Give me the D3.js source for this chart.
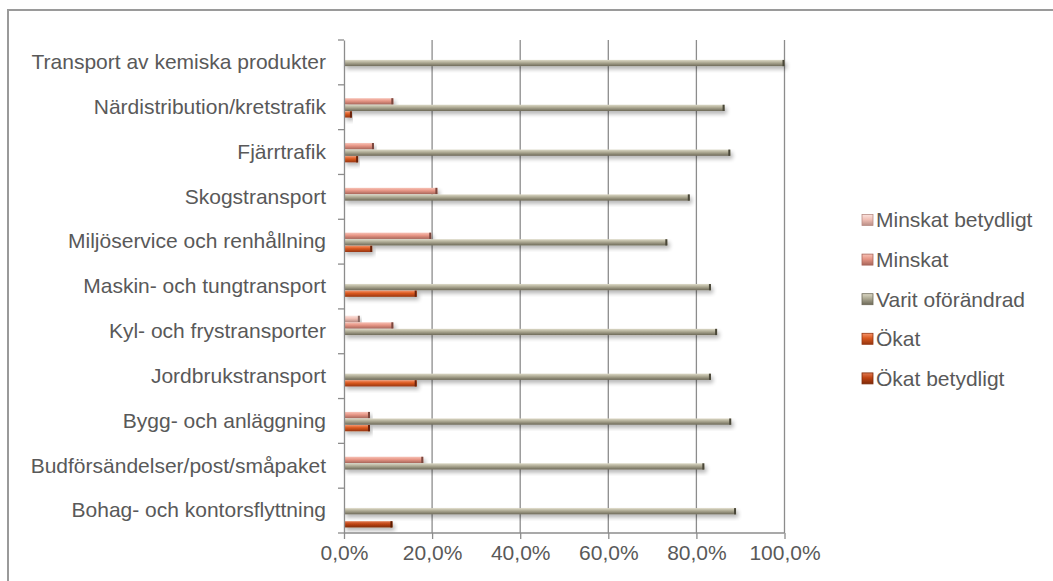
<!DOCTYPE html>
<html><head><meta charset="utf-8">
<script src="https://cdn.jsdelivr.net/npm/d3@7"></script>
<style>body{margin:0;background:#fff;} text{font-family:"Liberation Sans",Arial,sans-serif;}</style>
</head><body><svg id="c" width="1053" height="581"></svg>
<script>
// Categories listed top to bottom
const categories = ["Transport av kemiska produkter","Närdistribution/kretstrafik","Fjärrtrafik","Skogstransport","Miljöservice och renhållning","Maskin- och tungtransport","Kyl- och frystransporter","Jordbrukstransport","Bygg- och anläggning","Budförsändelser/post/småpaket","Bohag- och kontorsflyttning"];
const seriesNames = ["Minskat betydligt","Minskat","Varit oförändrad","Ökat","Ökat betydligt"];
const minskatBetydligt = [0,0,0,0,0,0,3.6,0,0,0,0];
const minskat          = [0,11.2,6.8,21.2,19.8,0,11.2,0,5.9,18.0,0];
const varitOforandrad  = [100,86.4,87.7,78.5,73.4,83.3,84.7,83.3,87.9,81.8,89.0];
const okat             = [0,1.8,3.2,0,6.4,16.5,0,16.5,5.9,0,0];
const okatBetydligt    = [0,0,0,0,0,0,0,0,0,0,11.0];
const xTicks = [0,20,40,60,80,100];
const seriesValues = [minskatBetydligt,minskat,varitOforandrad,okat,okatBetydligt];
const colors = [
  {top:"#fbe3de",mid:"#f1c0b6",bot:"#b98d85",cap:"#8a6a64"},
  {top:"#f8c2b6",mid:"#e69585",bot:"#a8665a",cap:"#7a463e"},
  {top:"#dcd9c6",mid:"#aca892",bot:"#6d6958",cap:"#4a4738"},
  {top:"#f5946a",mid:"#d9581f",bot:"#963610",cap:"#6b2408"},
  {top:"#e07a50",mid:"#bf4313",bot:"#7e2a08",cap:"#5a1d05"}
];
const FS = 21;
const TXT = "#595959";

const svg = d3.select("#c");
const defs = svg.append("defs");
colors.forEach((c,i)=>{
  const g = defs.append("linearGradient").attr("id","g"+i).attr("x1",0).attr("y1",0).attr("x2",0).attr("y2",1);
  g.append("stop").attr("offset","0%").attr("stop-color",c.top);
  g.append("stop").attr("offset","45%").attr("stop-color",c.mid);
  g.append("stop").attr("offset","100%").attr("stop-color",c.bot);
});
const f = defs.append("filter").attr("id","sh").attr("x","-5%").attr("y","-50%").attr("width","115%").attr("height","250%");
f.append("feGaussianBlur").attr("in","SourceAlpha").attr("stdDeviation",2);
f.append("feOffset").attr("dx",2).attr("dy",3).attr("result","ob");
f.append("feComponentTransfer").append("feFuncA").attr("type","linear").attr("slope",0.3);
const fm = f.append("feMerge"); fm.append("feMergeNode"); fm.append("feMergeNode").attr("in","SourceGraphic");

// outer border
svg.append("rect").attr("x",8).attr("y",10).attr("width",1060).attr("height",600)
  .attr("fill","none").attr("stroke","#9a9a9a").attr("stroke-width",2);

const x = d3.scaleLinear().domain([0,100]).range([344,784.5]);
const y0 = d3.scaleBand().domain(categories).range([40,533]).paddingInner(0.27).paddingOuter(0.135);
const y1 = d3.scaleBand().domain(seriesNames).range([0,y0.bandwidth()]);
const yOuter = d3.scaleBand().domain(categories).range([40,533]);

// gridlines
svg.append("g").selectAll("line").data(xTicks.slice(1)).join("line")
  .attr("x1",d=>x(d)).attr("x2",d=>x(d)).attr("y1",40).attr("y2",533)
  .attr("stroke","#8c8c8c").attr("stroke-width",1.3);

// bars
const gCat = svg.append("g").selectAll("g").data(categories).join("g")
  .attr("transform",d=>`translate(0,${y0(d)+0.8})`);
seriesNames.forEach((s,si)=>{
  gCat.each(function(cat,ci){
    const v = seriesValues[si][ci];
    if(!v) return;
    const g = d3.select(this).append("g").attr("filter","url(#sh)");
    g.append("rect").attr("x",x(0)).attr("y",y1(s)).attr("width",x(v)-x(0)).attr("height",y1.bandwidth()-0.3)
      .attr("fill","url(#g"+si+")");
    g.append("rect").attr("x",x(v)-2).attr("y",y1(s)).attr("width",2).attr("height",y1.bandwidth()-0.3)
      .attr("fill",colors[si].cap);
  });
});

// y axis
const yAxis = d3.axisLeft(yOuter).tickSize(0).tickPadding(18);
const ya = svg.append("g").attr("transform","translate(344,0)").call(yAxis);
ya.select(".domain").attr("stroke","#8c8c8c").attr("stroke-width",1.3);
ya.selectAll("text").attr("font-size",FS).attr("fill",TXT).attr("font-family","Liberation Sans, Arial, sans-serif");
// category boundary ticks
svg.append("g").selectAll("line").data(categories.concat(["_end"])).join("line")
  .attr("x1",338).attr("x2",344)
  .attr("y1",(d,i)=> i<categories.length ? yOuter(d) : 533)
  .attr("y2",(d,i)=> i<categories.length ? yOuter(d) : 533)
  .attr("stroke","#8c8c8c").attr("stroke-width",1.3);

// x axis
const xAxis = d3.axisBottom(x).tickValues(xTicks).tickSize(6).tickPadding(6)
  .tickFormat(d=>d3.format(".1f")(d).replace(".",",")+"%");
const xa = svg.append("g").attr("transform","translate(0,533)").call(xAxis);
xa.select(".domain").attr("stroke","#8c8c8c").attr("stroke-width",1.3).attr("d","M344,0H784.5");
xa.selectAll(".tick line").attr("stroke","#8c8c8c").attr("stroke-width",1.3);
xa.selectAll("text").attr("font-size",FS).attr("fill",TXT).attr("font-family","Liberation Sans, Arial, sans-serif");

// legend
const leg = svg.append("g").selectAll("g").data(seriesNames).join("g")
  .attr("transform",(d,i)=>`translate(862,${220+i*39.6})`);
leg.append("rect").attr("x",0).attr("y",-5.5).attr("width",11).attr("height",11)
  .attr("fill",(d,i)=>"url(#g"+i+")").attr("stroke",(d,i)=>colors[i].bot).attr("stroke-width",0.8);
leg.append("text").attr("x",14).attr("y",0).attr("dy","0.35em").attr("font-size",FS).attr("fill",TXT).text(d=>d);
</script></body></html>
